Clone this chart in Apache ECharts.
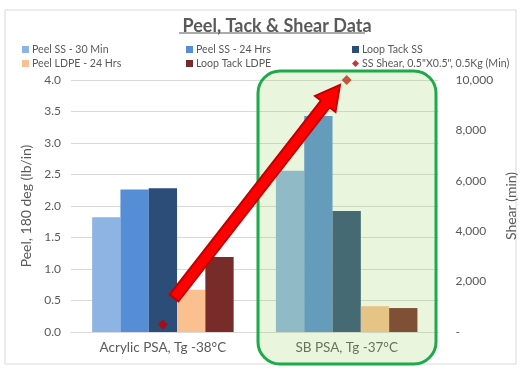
<!DOCTYPE html>
<html>
<head>
<meta charset="utf-8">
<script src="https://cdn.jsdelivr.net/npm/echarts@6/dist/echarts.min.js"></script>
<style>
  html, body { margin: 0; padding: 0; background: #fff; }
  #chart { width: 526px; height: 377px; }
</style>
</head>
<body>
<div id="chart"></div>
<script>
  // data
  var categories = ['Acrylic PSA, Tg -38°C', 'SB PSA, Tg -37°C'];
  var peelSS30 = [1.82, 2.56];
  var peelSS24 = [2.26, 3.43];
  var loopTackSS = [2.28, 1.92];
  var peelLDPE24 = [0.67, 0.41];
  var loopTackLDPE = [1.19, 0.38];
  var ssShear = [300, 10000];

  var font = 'Lato';
  var grey = '#595959';

  // block arrow (annotation), tail -> tip
  function arrowPoints(x0, y0, x1, y1, shaftW, headW, headL) {
    var dx = x1 - x0, dy = y1 - y0;
    var len = Math.sqrt(dx * dx + dy * dy);
    var ux = dx / len, uy = dy / len;
    var nx = -uy, ny = ux;
    var bx = x1 - ux * headL, by = y1 - uy * headL;
    return [
      [x0 + nx * shaftW, y0 + ny * shaftW],
      [bx + nx * shaftW, by + ny * shaftW],
      [bx + nx * headW, by + ny * headW],
      [x1, y1],
      [bx - nx * headW, by - ny * headW],
      [bx - nx * shaftW, by - ny * shaftW],
      [x0 - nx * shaftW, y0 - ny * shaftW]
    ];
  }

  var chart = echarts.init(document.getElementById('chart'));

  function barSeries(name, data, color) {
    return {
      name: name,
      type: 'bar',
      data: data,
      barGap: '0%',
      barCategoryGap: '23%',
      itemStyle: { color: color }
    };
  }

  function legendCol(left, items) {
    return {
      left: left, top: 43, orient: 'vertical', itemGap: 1, padding: 0,
      itemWidth: 7, itemHeight: 7,
      textStyle: { fontFamily: font, fontSize: 10.6, color: grey, padding: [0, 0, 0, -2], lineHeight: 13 },
      data: items
    };
  }

  chart.setOption({
    animation: false,
    textStyle: { fontFamily: font },
    title: {
      text: 'Peel, Tack & Shear Data',
      left: 272,
      textAlign: 'center',
      top: 12,
      textStyle: { fontFamily: font, fontSize: 18, fontWeight: 'bold', color: grey }
    },
    legend: [
      legendCol(22, [{ name: 'Peel SS - 30 Min', icon: 'rect' }, { name: 'Peel LDPE - 24 Hrs', icon: 'rect' }]),
      legendCol(186, [{ name: 'Peel SS - 24 Hrs', icon: 'rect' }, { name: 'Loop Tack LDPE', icon: 'rect' }]),
      legendCol(352, [{ name: 'Loop Tack SS', icon: 'rect' }, { name: 'SS Shear, 0.5"X0.5", 0.5Kg (Min)', icon: 'diamond' }])
    ],
    grid: { left: 71, right: 83, top: 80, bottom: 45 },
    xAxis: {
      type: 'category',
      data: categories,
      axisLine: { show: true, lineStyle: { color: '#D9D9D9' } },
      axisTick: { show: false },
      axisLabel: { fontFamily: font, fontSize: 13.5, color: grey, margin: 9 }
    },
    yAxis: [
      {
        type: 'value',
        min: 0, max: 4, interval: 0.5,
        name: 'Peel, 180 deg (lb/in)',
        nameLocation: 'middle',
        nameGap: 34,
        nameTextStyle: { fontFamily: font, fontSize: 14, color: grey },
        axisLine: { show: false },
        axisTick: { show: false },
        axisLabel: {
          fontFamily: font, fontSize: 12, color: grey, margin: 10,
          formatter: function (v) { return v.toFixed(1); }
        },
        splitLine: { lineStyle: { color: '#D9D9D9' } }
      },
      {
        type: 'value',
        min: 0, max: 10000, interval: 2000,
        name: 'Shear (min)',
        nameLocation: 'middle',
        nameGap: 62,
        nameRotate: 90,
        nameTextStyle: { fontFamily: font, fontSize: 14, color: grey },
        axisLine: { show: false },
        axisTick: { show: false },
        axisLabel: {
          fontFamily: font, fontSize: 12, color: grey, margin: 17,
          formatter: function (v) { return v === 0 ? '-' : v.toLocaleString('en-US'); }
        },
        splitLine: { show: false }
      }
    ],
    series: [
      barSeries('Peel SS - 30 Min', peelSS30, '#8EB4E3'),
      barSeries('Peel SS - 24 Hrs', peelSS24, '#558ED5'),
      barSeries('Loop Tack SS', loopTackSS, '#2C4D78'),
      barSeries('Peel LDPE - 24 Hrs', peelLDPE24, '#FAC090'),
      barSeries('Loop Tack LDPE', loopTackLDPE, '#772C2A'),
      {
        name: 'SS Shear, 0.5"X0.5", 0.5Kg (Min)',
        type: 'scatter',
        yAxisIndex: 1,
        data: ssShear,
        symbol: 'diamond',
        symbolSize: 10,
        itemStyle: { color: '#C00000' },
        z: 5
      }
    ],
    graphic: [
      {
        type: 'rect', z: -10, silent: true,
        shape: { x: 5, y: 10, width: 511, height: 354 },
        style: { fill: 'none', stroke: '#D9D9D9', lineWidth: 1 }
      },
      {
        type: 'line', z: 10, silent: true,
        shape: { x1: 179, y1: 33, x2: 365, y2: 33 },
        style: { stroke: grey, lineWidth: 1.2 }
      },
      {
        type: 'rect', z: 100, silent: true,
        shape: { x: 258, y: 71, width: 178, height: 293, r: 22 },
        style: { fill: 'rgba(160,210,100,0.22)', stroke: '#1DAA4B', lineWidth: 3 }
      },
      {
        type: 'polygon', z: 101, silent: true,
        shape: { points: arrowPoints(174, 298, 340, 85, 5.5, 13, 24) },
        style: { fill: '#FF0000', stroke: '#C00000', lineWidth: 2 }
      }
    ]
  });
</script>
</body>
</html>
